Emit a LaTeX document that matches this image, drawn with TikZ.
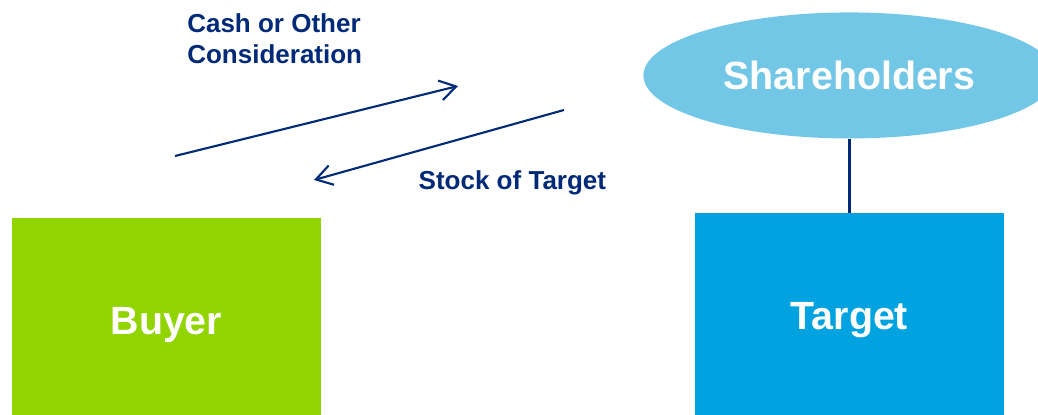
\documentclass[tikz,border=0pt]{standalone}
\usepackage{fontspec}
\setmainfont{Liberation Sans}
\usetikzlibrary{arrows.meta,positioning,shapes}

\definecolor{buyergreen}{RGB}{146,212,0}
\definecolor{targetblue}{RGB}{0,163,224}
\definecolor{holderblue}{RGB}{114,198,230}
\definecolor{dealnavy}{RGB}{0,42,120}

\begin{document}
\begin{tikzpicture}
    [font=\bfseries,
    party/.style={minimum width=7.725cm,minimum height=5.1cm,text=white,
      text height=20pt,text depth=0pt,
      font=\bfseries\fontsize{28}{34}\selectfont},
    owners/.style={ellipse,minimum width=10.3cm,minimum height=3.15cm,text=white,
      font=\bfseries\fontsize{28}{34}\selectfont},
    deal/.style={text=dealnavy,inner sep=0pt,font=\bfseries\fontsize{18.5}{22}\selectfont},
    flow/.style={->,>={Straight Barb[length=4mm,width=5mm]},line width=1.5pt,draw=dealnavy},
    link/.style={line width=2pt,draw=dealnavy}]

    \clip (0,0) rectangle (25.95,10.35);

    \node[party,fill=buyergreen] (buyer) at (4.16,2.35) {Buyer};
    \node[party,fill=targetblue] (target) [right of=buyer,xshift=16.075cm,yshift=0.125cm] {Target};
    \node[owners,fill=holderblue] (holders) [above=1.85cm of target] {Shareholders};

    \node[deal,align=left,anchor=north west] (cash) at (4.675,10.02) {Cash or Other\\Consideration};
    \node[deal,anchor=base] (stock) at (12.81,5.625) {Stock of Target};

    % loose ends of the two flows
    \coordinate (payfrom) at (4.375,6.45);
    \coordinate (payto) at (11.45,8.2);
    \coordinate (stockfrom) at (14.1,7.6);
    \coordinate (stockto) at (7.85,5.85);

    \path[flow] (payfrom) -- (payto);
    \path[flow] (stockfrom) -- (stockto);
    \path[link] (holders.south) -- (holders.south |- target.north);
  \end{tikzpicture}
\end{document}
